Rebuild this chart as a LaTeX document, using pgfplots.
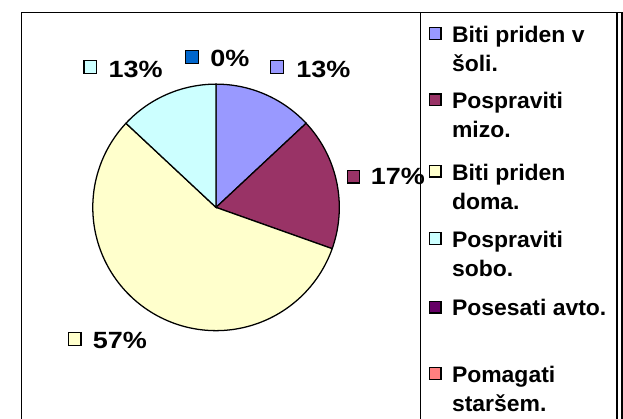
\documentclass[border=0pt]{standalone}
\usepackage{pgfplots}
\pgfplotsset{compat=1.18}
\usepackage{pgfplotstable}
\usepackage{fontspec}
\setmainfont{Liberation Sans}
\newfontfamily\labfont{Liberation Sans Bold}[FakeStretch=1.15]
\newfontfamily\legfont{Liberation Sans Bold}[FakeStretch=1.02]
\definecolor{c1}{HTML}{9999FF}
\definecolor{c2}{HTML}{993366}
\definecolor{c3}{HTML}{FFFFCC}
\definecolor{c4}{HTML}{CCFFFF}
\definecolor{c5}{HTML}{660066}
\definecolor{c6}{HTML}{FF8080}
\definecolor{c7}{HTML}{0066CC}
\begin{document}
\pgfplotstableread{
idx value
0 3
1 4
2 13
3 3
4 0
5 0
6 0
}\pietable
\pgfplotstablegetelem{0}{value}\of\pietable \let\va\pgfplotsretval
\pgfplotstablegetelem{1}{value}\of\pietable \let\vb\pgfplotsretval
\pgfplotstablegetelem{2}{value}\of\pietable \let\vc\pgfplotsretval
\pgfplotstablegetelem{3}{value}\of\pietable \let\vd\pgfplotsretval
\pgfplotstablegetelem{4}{value}\of\pietable \let\ve\pgfplotsretval
\pgfplotstablegetelem{5}{value}\of\pietable \let\vf\pgfplotsretval
\pgfplotstablegetelem{6}{value}\of\pietable \let\vg\pgfplotsretval
\pgfmathsetmacro\tot{\va+\vb+\vc+\vd+\ve+\vf+\vg}
\pgfmathsetmacro\aA{360*\va/\tot}
\pgfmathsetmacro\aB{360*(\va+\vb)/\tot}
\pgfmathsetmacro\aC{360*(\va+\vb+\vc)/\tot}
\pgfmathsetmacro\aD{360*(\va+\vb+\vc+\vd)/\tot}
\begin{tikzpicture}
\begin{axis}[hide axis, scale only axis, width=623bp, height=428bp,
  xmin=0, xmax=623, ymin=0, ymax=428, y dir=reverse, clip=false]
% frame
\draw[line width=1.6bp] (8,430) -- (8,13) -- (622,13) -- (622,430);
\draw[line width=1.6bp] (416,13) -- (416,430);
\draw[line width=1.6bp] (617,13) -- (617,430);
% pie wedges
\addplot[draw=black, line width=1.3bp, fill=c1, domain=0:\aA, samples=40] ({207+126*sin(x)},{212-126*cos(x)}) -- (axis cs:207,212) -- cycle;
\addplot[draw=black, line width=1.3bp, fill=c2, domain=\aA:\aB, samples=40] ({207+126*sin(x)},{212-126*cos(x)}) -- (axis cs:207,212) -- cycle;
\addplot[draw=black, line width=1.3bp, fill=c3, domain=\aB:\aC, samples=120] ({207+126*sin(x)},{212-126*cos(x)}) -- (axis cs:207,212) -- cycle;
\addplot[draw=black, line width=1.3bp, fill=c4, domain=\aC:\aD, samples=40] ({207+126*sin(x)},{212-126*cos(x)}) -- (axis cs:207,212) -- cycle;
% data labels
\tikzset{sq/.style={draw=black, line width=1.2bp}, lab/.style={anchor=base west, inner sep=0pt, font=\labfont\fontsize{24bp}{28bp}\selectfont}}
\fill[c4, sq] (72,62) rectangle (85,75);  \node[lab] at (97,79) {13\%};
\fill[c7, sq] (176,52) rectangle (189,65); \node[lab] at (201,68) {0\%};
\fill[c1, sq] (263,62) rectangle (276,75); \node[lab] at (289,79) {13\%};
\fill[c2, sq] (341,174) rectangle (354,187); \node[lab] at (365,189) {17\%};
\fill[c3, sq] (56,340) rectangle (69,353); \node[lab] at (81,356) {57\%};
% legend
\tikzset{leg/.style={anchor=base west, inner sep=0pt, font=\legfont\fontsize{23bp}{30bp}\selectfont}}
\fill[c1, sq] (425,28) rectangle (437,40);   \node[leg] at (448,43) {Biti priden v}; \node[leg] at (448,73) {šoli.};
\fill[c2, sq] (425,96) rectangle (437,108);  \node[leg] at (448,111) {Pospraviti};   \node[leg] at (448,141) {mizo.};
\fill[c3, sq] (425,169) rectangle (437,181); \node[leg] at (448,184) {Biti priden};  \node[leg] at (448,214) {doma.};
\fill[c4, sq] (425,238) rectangle (437,250); \node[leg] at (448,253) {Pospraviti};   \node[leg] at (448,283) {sobo.};
\fill[c5, sq] (425,308) rectangle (437,320); \node[leg] at (448,323) {Posesati avto.};
\fill[c6, sq] (425,376) rectangle (437,388); \node[leg] at (448,391) {Pomagati};     \node[leg] at (448,421) {staršem.};
\end{axis}
\pgfresetboundingbox
\path[use as bounding box] (0,0) rectangle (623bp,428bp);
\end{tikzpicture}
\end{document}
